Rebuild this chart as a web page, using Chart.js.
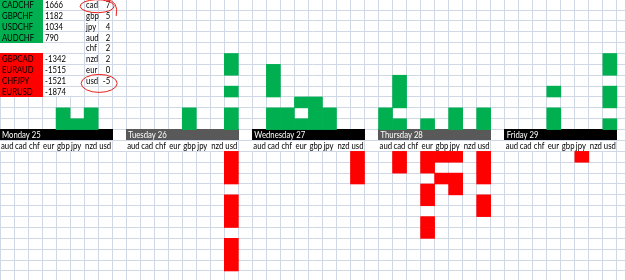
<!DOCTYPE html>
<html>
<head>
<meta charset="utf-8">
<script src="https://cdn.jsdelivr.net/npm/chart.js@4.4.0/dist/chart.umd.min.js"></script>
<style>
  html, body { margin: 0; padding: 0; background: #fff; }
  #wrap { width: 625px; height: 280px; position: relative; }
</style>
</head>
<body>
<div id="wrap"><canvas id="sheet_chart"></canvas></div>
<script>
// ---- data ----
const days = ['Monday 25', 'Tuesday 26', 'Wednesday 27', 'Thursday 28', 'Friday 29'];
const currencies = ['aud', 'cad', 'chf', 'eur', 'gbp', 'jpy', 'nzd', 'usd'];

const longPairs = ['CADCHF', 'GBPCHF', 'USDCHF', 'AUDCHF'];
const longValues = [1666, 1182, 1034, 790];
const shortPairs = ['GBPCAD', 'EURAUD', 'CHFJPY', 'EURUSD'];
const shortValues = [-1342, -1515, -1521, -1874];

const scoreCcy = ['cad', 'gbp', 'jpy', 'aud', 'chf', 'nzd', 'eur', 'usd'];
const scoreValues = [7, 5, 4, 2, 2, 2, 0, -5];

// filled cells above the day header, level 1 = first cell above it
const greenLevels = [
  { gbp: [1, 2], jpy: [1], nzd: [1, 2] },
  { gbp: [1, 2], usd: [1, 2, 4, 6, 7] },
  { cad: [1, 2, 4, 5, 6], chf: [1, 2], eur: [1, 3], gbp: [1, 2, 3], jpy: [1, 2] },
  { aud: [1, 2], cad: [1, 3, 4, 5], eur: [1], jpy: [1, 2], usd: [1, 2] },
  { eur: [1, 2, 4], usd: [1, 3, 4, 6, 7] }
];
// filled cells below the currency labels, level 1 = first cell below them
const redLevels = [
  {},
  { usd: [1, 2, 3, 5, 6, 7, 9, 10, 11] },
  { usd: [1, 2, 3] },
  { cad: [1, 2], eur: [1, 2, 4, 5, 7, 8], gbp: [1, 3], jpy: [1, 3, 4], usd: [1, 2, 3, 5, 6] },
  { jpy: [1] }
];

// ---- sheet geometry (in cells) ----
const COL_MAX = 44.58;
const ROW_MIN = 0.08, ROW_MAX = 25.83;
const HEADER_ROW = 12;
const DAY_SPAN = 9;
const GREEN = '#00b050', RED = '#ff0000', GRIDC = '#d0d7e5';
const dayFill = ['#000000', '#595959', '#000000', '#595959', '#000000'];
const FONT = '9px Lato';
const SQUEEZE = 0.86;

const toCells = (levels, rowOf) => {
  const out = [];
  levels.forEach((day, d) => {
    currencies.forEach((ccy, c) => {
      (day[ccy] || []).forEach(lv => {
        const row = rowOf(lv);
        out.push({ x: d * DAY_SPAN + c + 0.5, y: [row, row + 1] });
      });
    });
  });
  return out;
};

// narrow text, Calibri-like width
const cellText = (ctx, txt, x, y, align) => {
  ctx.save();
  ctx.translate(x, y);
  ctx.scale(SQUEEZE, 1);
  ctx.textAlign = align || 'left';
  ctx.fillText(txt, 0, 0);
  ctx.restore();
};

const sheetPlugin = {
  id: 'sheet',
  beforeDatasetsDraw(chart) {
    const ctx = chart.ctx;
    const xs = chart.scales.x, ys = chart.scales.y;
    const px = v => xs.getPixelForValue(v);
    const py = v => ys.getPixelForValue(v);
    const line = p => Math.round(p - 0.5);
    ctx.save();
    // top table: white merged cells keeping row lines
    for (let r = 0; r < 9; r++) {
      ctx.fillStyle = '#fff';
      ctx.fillRect(0, line(py(r)) + 1, line(px(6)), line(py(r + 1)) - line(py(r)) - 1);
    }
    longPairs.forEach((p, i) => {
      ctx.fillStyle = GREEN;
      ctx.fillRect(0, line(py(i)), line(px(3)) + 1, line(py(i + 1)) - line(py(i)) + 1);
    });
    shortPairs.forEach((p, i) => {
      const r = i + 5;
      ctx.fillStyle = RED;
      ctx.fillRect(0, line(py(r)), line(px(3)) + 1, line(py(r + 1)) - line(py(r)) + 1);
    });
    // day headers and label rows
    days.forEach((d, i) => {
      const x0 = line(px(i * DAY_SPAN)), x1 = line(px(i * DAY_SPAN + 8));
      ctx.fillStyle = dayFill[i];
      ctx.fillRect(x0, line(py(HEADER_ROW)), x1 - x0 + 1, line(py(HEADER_ROW + 1)) - line(py(HEADER_ROW)));
      ctx.fillStyle = '#fff';
      ctx.fillRect(x0, line(py(HEADER_ROW + 1)) + 1, x1 - x0, line(py(HEADER_ROW + 2)) - line(py(HEADER_ROW + 1)) - 1);
    });
    ctx.restore();
  },
  afterDatasetsDraw(chart) {
    const ctx = chart.ctx;
    const xs = chart.scales.x, ys = chart.scales.y;
    const px = v => xs.getPixelForValue(v);
    const py = v => ys.getPixelForValue(v);
    const mid = r => (py(r) + py(r + 1)) / 2 + 0.5;
    ctx.save();
    ctx.font = FONT;
    ctx.textBaseline = 'middle';
    ctx.fillStyle = '#000';
    longPairs.forEach((p, i) => {
      cellText(ctx, p, px(0) + 2, mid(i));
      cellText(ctx, String(longValues[i]), px(3) + 3, mid(i));
    });
    shortPairs.forEach((p, i) => {
      cellText(ctx, p, px(0) + 2, mid(i + 5));
      cellText(ctx, String(shortValues[i]), px(3) + 3, mid(i + 5));
    });
    scoreCcy.forEach((c, i) => {
      cellText(ctx, c, px(6) + 2, mid(i));
      cellText(ctx, String(scoreValues[i]), px(8) - 2, mid(i), 'right');
    });
    days.forEach((d, i) => {
      ctx.fillStyle = '#fff';
      cellText(ctx, d, px(i * DAY_SPAN) + 2, mid(HEADER_ROW));
      ctx.fillStyle = '#000';
      currencies.forEach((c, j) => {
        cellText(ctx, c, px(i * DAY_SPAN + j) + 1, mid(HEADER_ROW + 1));
      });
    });
    // hand drawn circles round cad 7 and usd -5
    ctx.strokeStyle = '#e8211c';
    ctx.lineWidth = 1;
    ctx.beginPath();
    ctx.ellipse(px(7) - 1, py(0.65), 17, 6.5, 0, Math.PI * 1.6, Math.PI * 3.75);
    ctx.stroke();
    ctx.beginPath();
    ctx.moveTo(px(7) + 8, py(0.65) - 6.5);
    ctx.quadraticCurveTo(px(8) + 7, py(0.15), px(8) + 4, py(1.55));
    ctx.stroke();
    ctx.beginPath();
    ctx.ellipse(px(7) + 1, py(7.75), 18, 9, 0, 0, Math.PI * 2);
    ctx.stroke();
    ctx.restore();
  }
};

const createSheetChart = () => {
  const ctx = document.getElementById('sheet_chart').getContext('2d');
  const sheetData = {
    datasets: [
      {
        label: 'up',
        data: toCells(greenLevels, lv => HEADER_ROW - lv),
        backgroundColor: GREEN
      },
      {
        label: 'down',
        data: toCells(redLevels, lv => HEADER_ROW + 1 + lv),
        backgroundColor: RED
      }
    ]
  };
  new Chart(ctx, {
    type: 'bar',
    data: sheetData,
    options: {
      responsive: true,
      maintainAspectRatio: false,
      animation: false,
      layout: { padding: 0 },
      grouped: false,
      barPercentage: 1,
      categoryPercentage: 1,
      borderWidth: 0,
      plugins: { legend: { display: false }, tooltip: { enabled: false } },
      scales: {
        x: {
          type: 'linear', min: 0, max: COL_MAX, offset: false,
          ticks: { display: false, stepSize: 1, includeBounds: false, autoSkip: false },
          grid: { color: GRIDC, drawTicks: false, offset: false },
          border: { display: false }
        },
        y: {
          type: 'linear', min: ROW_MIN, max: ROW_MAX, reverse: true, offset: false,
          ticks: { display: false, stepSize: 1, includeBounds: false, autoSkip: false },
          grid: { color: GRIDC, drawTicks: false },
          border: { display: false }
        }
      }
    },
    plugins: [sheetPlugin]
  });
};

document.addEventListener('DOMContentLoaded', () => {
  createSheetChart();
});
</script>
</body>
</html>
